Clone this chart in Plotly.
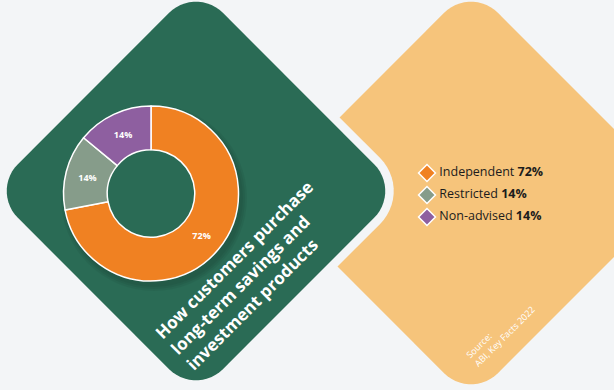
import numpy as np
import plotly.graph_objects as go

# ---- data ----
categories = ["Independent", "Restricted", "Non-advised"]
shares = [72, 14, 14]
slice_colors = ["#F08122", "#869C8A", "#8E5FA0"]
title_lines = ["How customers purchase", "long-term savings and", "investment products"]
source_lines = ["Source:", "ABI, Key Facts 2022"]

W, H = 614, 390
BG = "#F3F5F7"
GREEN = "#2A6B55"
PEACH = "#F6C47B"


def px(x, y):
    return x / W, 1 - y / H


def rounded_diamond(cx, cy, R, r, n=14):
    verts = [(cx, cy - R), (cx + R, cy), (cx, cy + R), (cx - R, cy)]
    pts = []
    for i, (vx, vy) in enumerate(verts):
        d = np.array([cx - vx, cy - vy], float)
        d /= np.linalg.norm(d)
        c = np.array([vx, vy]) + d * r * np.sqrt(2)
        prev = np.array(verts[i - 1], float)
        nxt = np.array(verts[(i + 1) % 4], float)
        v = np.array([vx, vy], float)
        p1 = v + (prev - v) / np.linalg.norm(prev - v) * r
        p2 = v + (nxt - v) / np.linalg.norm(nxt - v) * r
        a1 = np.arctan2(p1[1] - c[1], p1[0] - c[0])
        a2 = np.arctan2(p2[1] - c[1], p2[0] - c[0])
        da = (a2 - a1 + np.pi) % (2 * np.pi) - np.pi
        for t in np.linspace(0, 1, n):
            a = a1 + da * t
            pts.append((c[0] + r * np.cos(a), c[1] + r * np.sin(a)))
    s = ""
    for k, (x, y) in enumerate(pts):
        X, Y = px(x, y)
        s += ("M" if k == 0 else "L") + f"{X:.5f},{Y:.5f} "
    return s + "Z"


def circle(cx, cy, rr, color):
    x0, y0 = px(cx - rr, cy - rr)
    x1, y1 = px(cx + rr, cy + rr)
    return dict(type="circle", xref="paper", yref="paper", layer="below",
                x0=x0, x1=x1, y0=y1, y1=y0, fillcolor=color, line=dict(width=0))


shapes = [
    dict(type="path", xref="paper", yref="paper", layer="below",
         path=rounded_diamond(471, 193, 207, 38), fillcolor=PEACH, line=dict(width=0)),
    dict(type="path", xref="paper", yref="paper", layer="below",
         path=rounded_diamond(196, 191, 205 + 12, 38 + 8.5), fillcolor=BG, line=dict(width=0)),
    dict(type="path", xref="paper", yref="paper", layer="below",
         path=rounded_diamond(196, 191, 205, 38), fillcolor=GREEN, line=dict(width=0)),
]
# soft donut shadow, hole kept clean
for i in range(3):
    shapes.append(circle(154, 198, 89 + i * 2, "rgba(0,0,0,0.05)"))
shapes.append(circle(151, 193.5, 44, GREEN))

fig = go.Figure()

dx0, _ = px(63, 0)
dx1, _ = px(239, 0)
_, dy1 = px(0, 106)
_, dy0 = px(0, 281)
fig.add_trace(go.Pie(
    labels=categories, values=shares, hole=0.5, sort=False, direction="clockwise",
    rotation=0, marker=dict(colors=slice_colors, line=dict(color="white", width=1.5)),
    textinfo="percent", texttemplate="%{percent:.0%}", textposition="inside",
    insidetextorientation="horizontal",
    textfont=dict(family="Open Sans", size=9, color="white", weight="bold"),
    domain=dict(x=[dx0, dx1], y=[dy0, dy1]), showlegend=False, hoverinfo="skip",
))

legend_text = [f" {c} <b>{v}%</b>" for c, v in zip(categories, shares)]
fig.add_trace(go.Scatter(
    x=[0] * len(categories), y=list(range(len(categories))), mode="markers+text",
    marker=dict(symbol="diamond", size=13, color=slice_colors, line=dict(color="white", width=1.5)),
    text=legend_text, textposition="middle right",
    textfont=dict(family="Open Sans", size=12.5, color="#1C1C1C"),
    xaxis="x", yaxis="y", cliponaxis=False, showlegend=False, hoverinfo="skip",
))

lx0, _ = px(427, 0)
_, ly0 = px(0, 217)
_, ly1 = px(0, 173)

annotations = []
tx, ty = px(249, 275)
annotations.append(dict(
    text="<br>".join(title_lines), x=tx, y=ty, xref="paper", yref="paper",
    xanchor="center", yanchor="middle", align="left", textangle=-45, showarrow=False,
    font=dict(family="Open Sans", size=17, color="white", weight="bold"),
))
sx, sy = px(500, 332)
annotations.append(dict(
    text="<br>".join(source_lines), x=sx, y=sy, xref="paper", yref="paper",
    xanchor="center", yanchor="middle", align="left", textangle=-45, showarrow=False,
    font=dict(family="Open Sans", size=9, color="white"),
))

fig.update_layout(
    width=W, height=H, margin=dict(l=0, r=0, t=0, b=0),
    paper_bgcolor=BG, plot_bgcolor="rgba(0,0,0,0)",
    xaxis=dict(domain=[lx0, 1], range=[0, 1], visible=False, fixedrange=True),
    yaxis=dict(domain=[ly0, ly1], range=[2, 0], visible=False, fixedrange=True),
    shapes=shapes, annotations=annotations,
)

fig.write_html("out.html", config=dict(displayModeBar=False),
               post_script="document.body.style.margin='0';document.body.style.background='" + BG + "';")
